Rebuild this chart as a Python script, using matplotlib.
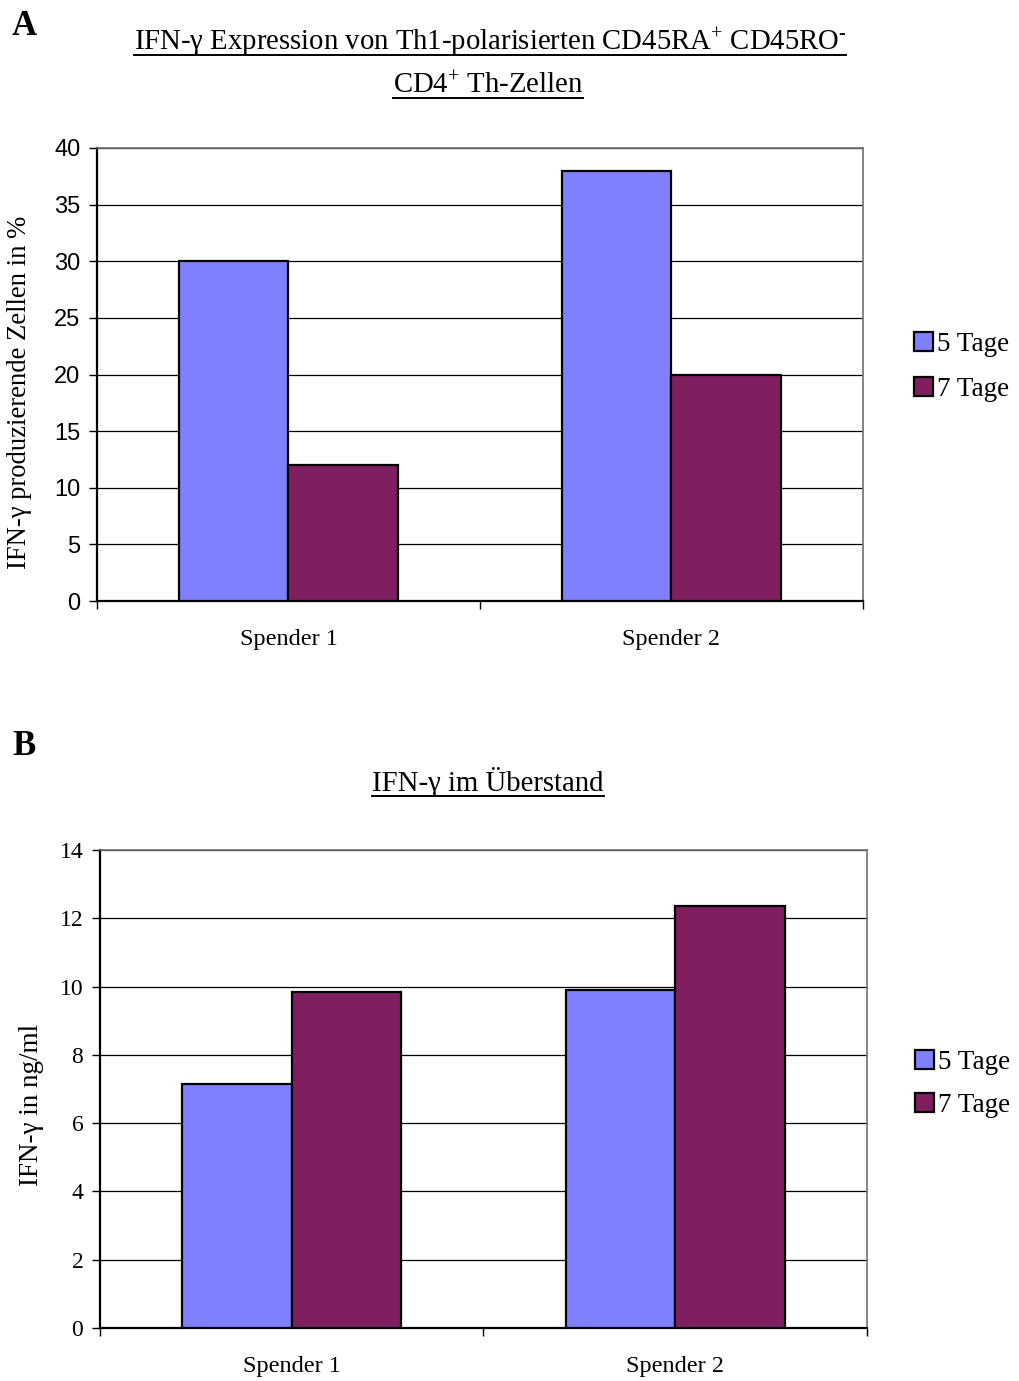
import matplotlib
matplotlib.use("Agg")
import matplotlib.pyplot as plt
from matplotlib.patches import Patch
from matplotlib.lines import Line2D
import numpy as np

plt.rcParams["mathtext.fontset"] = "custom"
plt.rcParams["mathtext.rm"] = "Liberation Serif"
plt.rcParams["mathtext.it"] = "Liberation Serif:italic"

SERIF = "Liberation Serif"
SANS = "Liberation Sans"

donors = ["Spender 1", "Spender 2"]
series = ["5 Tage", "7 Tage"]
colors = ["#8080FF", "#7F1F5F"]

# Panel A: percentage of IFN-gamma producing cells
pct_5d = [30, 38]
pct_7d = [12, 20]
# Panel B: IFN-gamma in supernatant (ng/ml)
conc_5d = [7.15, 9.9]
conc_7d = [9.85, 12.35]

W, H = 1020, 1381
fig = plt.figure(figsize=(W / 100, H / 100), dpi=100)


def px_axes(l, t, r, b):
    return fig.add_axes([l / W, 1 - b / H, (r - l) / W, (b - t) / H])


def draw_bars(ax, vals5, vals7, ymax, step, tickfont, legend_x, legend_y, spacing):
    x = np.arange(len(donors))
    bw = 1 / 3.5
    for vals, off, c in [(vals5, -bw / 2, colors[0]), (vals7, bw / 2, colors[1])]:
        ax.bar(x + off, vals, width=bw, color=c, edgecolor="black", linewidth=1.6, zorder=3)
    ax.set_xlim(-0.5, len(donors) - 0.5)
    ax.set_ylim(0, ymax)
    ax.set_yticks(np.arange(0, ymax + step / 2, step))
    ax.yaxis.grid(True, color="black", linewidth=0.9, zorder=0)
    ax.set_axisbelow(True)
    ax.set_xticks(np.arange(-0.5, len(donors), 1.0))
    ax.set_xticklabels([])
    ax.set_xticks(x, minor=True)
    ax.set_xticklabels(donors, minor=True, fontsize=17.5, fontfamily=SERIF)
    ax.tick_params(axis="x", which="minor", length=0, pad=20)
    ax.tick_params(axis="x", which="major", length=6, width=1.0, direction="out")
    ax.tick_params(axis="y", length=6, width=1.0, direction="out", pad=6)
    for lab in ax.get_yticklabels():
        lab.set_fontfamily(tickfont)
        lab.set_fontsize(17)
    for s in ["left", "bottom"]:
        ax.spines[s].set_linewidth(1.6)
        ax.spines[s].set_color("black")
    for s in ["top", "right"]:
        ax.spines[s].set_linewidth(1.2)
        ax.spines[s].set_color("#707070")
    handles = [Patch(facecolor=c, edgecolor="black", linewidth=1.6) for c in colors]
    ax.legend(handles, series, loc="center left", bbox_to_anchor=(legend_x, legend_y),
              frameon=False, prop={"family": SERIF, "size": 19.5},
              handlelength=0.7, handleheight=0.7, handletextpad=0.15,
              labelspacing=spacing, borderaxespad=0)


axA = px_axes(97, 148, 863, 601)
draw_bars(axA, pct_5d, pct_7d, 40, 5, SANS, 1.053, 0.517, 0.75)
axA.set_ylabel("IFN-γ produzierende Zellen in %", fontfamily=SERIF, fontsize=19.2)
axA.yaxis.set_label_coords(-0.085, 0.461)

axB = px_axes(100, 850, 867, 1328)
draw_bars(axB, conc_5d, conc_7d, 14, 2, SERIF, 1.048, 0.511, 0.65)
axB.set_ylabel("IFN-γ in ng/ml", fontfamily=SERIF, fontsize=19.5)
axB.yaxis.set_label_coords(-0.073, 0.4665)

# panel letters
fig.text(12 / W, 1 - 35 / H, "A", fontfamily=SERIF, fontweight="bold", fontsize=25)
fig.text(12 / W, 1 - 755 / H, "B", fontfamily=SERIF, fontweight="bold", fontsize=25)

# underlined titles
titles = [
    (490, 50, r"IFN-γ Expression von Th1-polarisierten CD45RA$^{+}$ CD45RO$^{\text{-}}$"),
    (488, 93, r"CD4$^{+}$ Th-Zellen"),
    (488, 791, "IFN-γ im Überstand"),
]
fig.canvas.draw()
renderer = fig.canvas.get_renderer()
for cx, by, s in titles:
    t = fig.text(cx / W, 1 - by / H, s, ha="center", va="baseline",
                 fontfamily=SERIF, fontsize=20.7)
    bb = t.get_window_extent(renderer)
    yline = 1 - (by + 5) / H
    fig.add_artist(Line2D([bb.x0 / W, bb.x1 / W], [yline, yline],
                          transform=fig.transFigure, color="black", linewidth=1.4))

fig.savefig("out.png", dpi=100)
